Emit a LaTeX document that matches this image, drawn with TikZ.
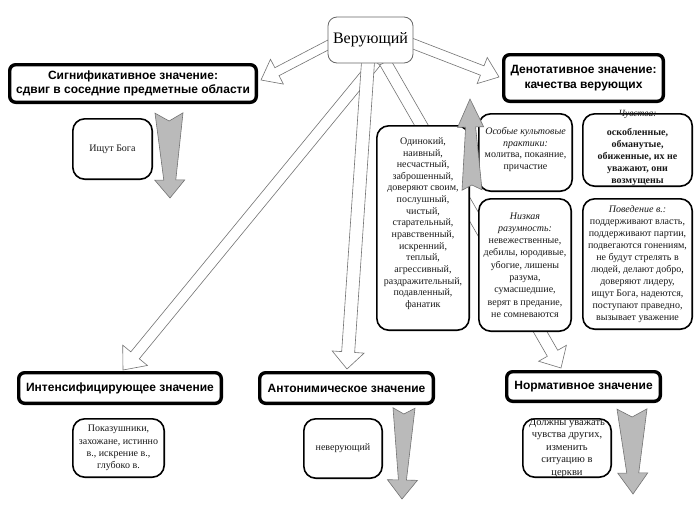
\documentclass[tikz,border=0pt]{standalone}
\usepackage{fontspec}
\setmainfont{Liberation Serif}
\newfontfamily\hdfont{Liberation Sans}
\usetikzlibrary{calc}

\tikzset{
  hubbox/.style={draw=black!60, line width=0.8pt, rounded corners=9pt, fill=white,
    inner sep=0pt, font=\fontsize{16}{18}\selectfont},
  hbox/.style={draw=black, line width=3.4pt, rounded corners=6pt, fill=white,
    align=center, inner sep=0pt, font=\hdfont\bfseries\fontsize{12}{14.5}\selectfont},
  sbox/.style={draw=black, line width=1.6pt, rounded corners=12pt, fill=white, inner sep=0pt},
  txt/.style={align=center, inner sep=0pt, text=black!90, font=\fontsize{10}{11.7}\selectfont},
  harrowst/.style={draw=black!55, fill=white, line width=0.6pt, line join=miter},
  garrowst/.style={draw=black!55, fill=black!27, line width=0.6pt, line join=miter},
}

% hollow arrow: #1 start, #2 tip, #3 shaft half width, #4 head half width, #5 head length
\newcommand\hollowarrow[5]{%
  \coordinate (hb) at ($(#2)!#5!(#1)$);
  \draw[harrowst] ($(#1)!#3!90:(#2)$) -- ($(hb)!#3!90:(#2)$) -- ($(hb)!#4!90:(#2)$)
    -- (#2) -- ($(hb)!#4!-90:(#2)$) -- ($(hb)!#3!-90:(#2)$) -- ($(#1)!#3!-90:(#2)$) -- cycle;
}
% tapered gray arrow: #1 start, #2 tip, #3 start half width, #4 end half width,
% #5 head half width, #6 head length, #7 notch depth
\newcommand\grayarrow[7]{%
  \coordinate (hb) at ($(#2)!#6!(#1)$);
  \draw[garrowst] ($(#1)!#3!90:(#2)$) -- ($(hb)!#4!90:(#2)$) -- ($(hb)!#5!90:(#2)$)
    -- (#2) -- ($(hb)!#5!-90:(#2)$) -- ($(hb)!#4!-90:(#2)$) -- ($(#1)!#3!-90:(#2)$)
    -- ($(#1)!#7!(#2)$) -- cycle;
}

\begin{document}
\begin{tikzpicture}[x=1pt,y=-1pt]
\fill[white] (0,0) rectangle (700,509);
\useasboundingbox (0,0) rectangle (700,509);

% ---------- hollow connectors (behind the boxes)
\coordinate (h1s) at (330,44);  \coordinate (h1e) at (261,80);
\coordinate (h2s) at (411,43);  \coordinate (h2e) at (499,77);
\coordinate (h3s) at (376,62);  \coordinate (h3e) at (123,370);
\coordinate (h4s) at (368,62);  \coordinate (h4e) at (347,369);
\coordinate (h5s) at (385,62);  \coordinate (h5e) at (561,368);
\hollowarrow{h1s}{h1e}{4.5pt}{14pt}{18pt}
\hollowarrow{h2s}{h2e}{5pt}{14pt}{18pt}
\hollowarrow{h3s}{h3e}{5.5pt}{16pt}{19pt}
\hollowarrow{h4s}{h4e}{6.5pt}{16pt}{17pt}
\hollowarrow{h5s}{h5e}{6pt}{16pt}{17pt}

% ---------- hub
\node[hubbox, minimum width=85pt, minimum height=46pt] (hub) at (370.5,40) {Верующий};

% ---------- heading boxes
\node[hbox, minimum width=246.6pt, minimum height=37.6pt] (sig) at (133,83.5)
  {Сигнификативное значение:\\сдвиг в соседние предметные области};
\node[hbox, minimum width=159.6pt, minimum height=46.6pt] (den) at (583.5,78)
  {Денотативное значение:\\качества верующих};
\node[hbox, minimum width=202.6pt, minimum height=30.6pt] (int) at (120,388)
  {Интенсифицирующее значение};
\node[hbox, minimum width=173.6pt, minimum height=30.6pt] (ant) at (346.5,388)
  {Антонимическое значение};
\node[hbox, minimum width=153.6pt, minimum height=29.6pt] (norm) at (583.5,386.5)
  {Нормативное значение};

% ---------- small boxes
\node[sbox, minimum width=79.4pt, minimum height=60.4pt] (ishut) at (112.5,149) {};
\node[sbox, minimum width=92.4pt, minimum height=204.4pt] (odin) at (423,228) {};
\node[sbox, minimum width=93.4pt, minimum height=77.4pt] (osob) at (525.5,152.5) {};
\node[sbox, minimum width=109.4pt, minimum height=72.4pt] (chuv) at (637.5,150) {};
\node[sbox, minimum width=92.4pt, minimum height=132.4pt] (nizk) at (525,265) {};
\node[sbox, minimum width=109.4pt, minimum height=130.4pt] (poved) at (637.5,264) {};
\node[sbox, minimum width=91.4pt, minimum height=58.4pt] (pokaz) at (118.5,448) {};
\node[sbox, minimum width=78.4pt, minimum height=59.4pt] (never) at (343,448.5) {};
\node[sbox, minimum width=88.4pt, minimum height=58.4pt] (dolzh) at (567,448) {};

% ---------- texts of the small boxes
\node[txt] (ishutT) at (112.5,149) {Ищут Бога};
\node[txt, font=\fontsize{10}{11.64}\selectfont] (odinT) at (423,223.5)
  {Одинокий,\\наивный,\\несчастный,\\заброшенный,\\доверяют своим,\\послушный,\\чистый,\\старательный,\\нравственный,\\искренний,\\теплый,\\агрессивный,\\раздражительный,\\подавленный,\\фанатик};
\node[txt] (osobT) at (525.5,149.5)
  {\textit{Особые культовые}\\\textit{практики:}\\молитва, покаяние,\\причастие};
\node[txt, font=\itshape\fontsize{9.5}{11}\selectfont] (chuvL) at (637.5,114) {Чувства:};
\node[txt, font=\bfseries\fontsize{10}{12}\selectfont] (chuvT) at (637.5,157)
  {оскобленные,\\обманутые,\\обиженные, их не\\уважают, они\\возмущены};
\node[txt, font=\fontsize{10}{12.3}\selectfont] (nizkT) at (525,265)
  {\textit{Низкая}\\\textit{разумность:}\\невежественные,\\дебилы, юродивые,\\убогие, лишены\\разума,\\сумасшедшие,\\верят в предание,\\не сомневаются};
\node[txt, font=\fontsize{10}{12}\selectfont] (povedT) at (637.5,264)
  {\textit{Поведение в.:}\\поддерживают власть,\\поддерживают партии,\\подвегаются гонениям,\\не будут стрелять в\\людей, делают добро,\\доверяют лидеру,\\ищут Бога, надеются,\\поступают праведно,\\вызывает уважение};
\node[txt, font=\fontsize{10}{12.4}\selectfont] (pokazT) at (118.5,448)
  {Показушники,\\захожане, истинно\\в., искрение в.,\\глубоко в.};
\node[txt] (neverT) at (343,448.5) {неверующий};
\node[txt, font=\fontsize{10.5}{12.4}\selectfont] (dolzhT) at (567,448)
  {Должны уважать\\чувства других,\\изменить\\ситуацию в\\церкви};

% ---------- gray arrows (on top)
\coordinate (g1s) at (169,113); \coordinate (g1e) at (170,198);
\coordinate (g2s) at (404,408); \coordinate (g2e) at (402,499);
\coordinate (g3s) at (632,409); \coordinate (g3e) at (633,494);
\coordinate (g4s) at (472,190); \coordinate (g4e) at (470,99);
\grayarrow{g1s}{g1e}{14pt}{6pt}{15pt}{18pt}{8pt}
\grayarrow{g2s}{g2e}{11pt}{4pt}{15pt}{19pt}{6pt}
\grayarrow{g3s}{g3e}{15pt}{6pt}{15pt}{21pt}{8pt}
\grayarrow{g4s}{g4e}{10pt}{5pt}{13pt}{28pt}{5pt}
\end{tikzpicture}
\end{document}
